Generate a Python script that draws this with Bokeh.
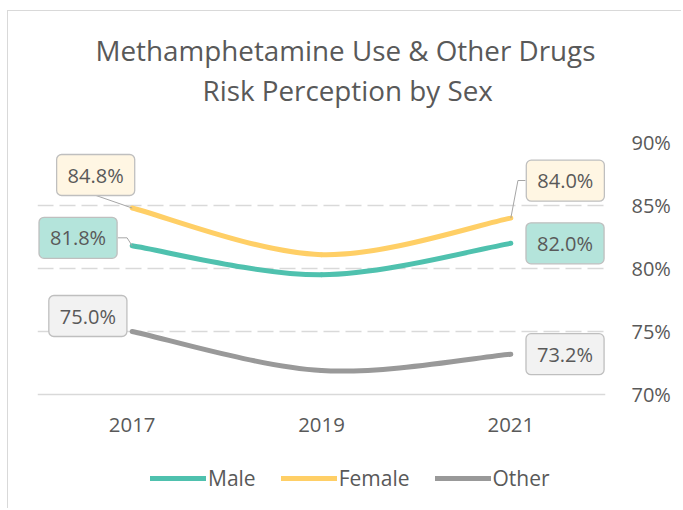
import numpy as np
from bokeh.plotting import figure
from bokeh.models import (FixedTicker, PrintfTickFormatter, Label, Legend,
                          LegendItem, Range1d, Title, Span)
from bokeh.core.properties import value
from bokeh.embed import file_html
from bokeh.resources import INLINE

# ---- data ----
years = ["2017", "2019", "2021"]
male = [81.8, 79.5, 82.0]
female = [84.8, 81.1, 84.0]
other = [75.0, 71.9, 73.2]
y_ticks = [70, 75, 80, 85, 90]
title_lines = ["Methamphetamine Use & Other Drugs", "Risk Perception by Sex"]
series_names = ["Male", "Female", "Other"]

# ---- styles ----
line_colors = {"Male": "#4FC1AE", "Female": "#FFCF66", "Other": "#999999"}
box_colors = {"Male": "#B4E4DB", "Female": "#FFF6E3", "Other": "#F2F2F2"}
TXT = "#595959"
FONT = "Open Sans"
# label box centre offsets from the data point (screen px, y up)
label_offsets = {
    ("Female", 0): (-36.5, 33), ("Male", 0): (-54.1, 8), ("Other", 0): (-44.3, 15.5),
    ("Female", 2): (54.5, 37.4), ("Male", 2): (54.2, 0), ("Other", 2): (54.2, 0),
}
# leader lines (screen px offsets from the data point)
leaders = {
    ("Female", 0): [(0, 0), (-36.1, 12.5)],
    ("Male", 0): [(0, 0), (-5.1, 8), (-14.3, 8)],
    ("Female", 2): [(0, 0), (7.1, 37.6), (14.6, 37.6)],
}

W, H = 674, 498
ML, MT = 29, 131
FW = 568
PX_PER_PCT = 12.6           # vertical scale (px per percentage point)
MR = W - ML - FW
FH = H - MT                 # frame runs to the bottom of the canvas

values = {"Male": male, "Female": female, "Other": other}
xs = np.arange(len(years), dtype=float)
y_top = y_ticks[-1]
y_bottom = y_top - FH / PX_PER_PCT

p = figure(width=W, height=H, output_backend="svg", toolbar_location=None,
           x_range=Range1d(-0.5, len(years) - 0.5),
           y_range=Range1d(y_bottom, y_top),
           x_axis_location=None, y_axis_location="right",
           min_border_left=ML, min_border_right=MR,
           min_border_top=MT, min_border_bottom=0)
p.styles = {"margin-left": "7px", "margin-top": "10px",
            "border-left": "1px solid #D9D9D9", "border-top": "1px solid #D9D9D9"}
p.outline_line_color = None
p.background_fill_color = "white"
p.border_fill_color = "white"

# titles: p.title is outermost; first added Title is nearest the plot
p.title.text = title_lines[0]
p.title.align = "left"
p.title.offset = 58
p.title.text_font = FONT
p.title.text_font_size = "27.8px"
p.title.text_font_style = "normal"
p.title.text_color = TXT
p.title.standoff = 0
spacer = Title(text=" ", text_font=FONT, text_font_size="23px", standoff=0)
p.add_layout(spacer, "above")
t2 = Title(text=title_lines[1], align="left", offset=165, text_font=FONT,
           text_font_size="27.8px", text_font_style="normal", text_color=TXT,
           standoff=0)
p.add_layout(t2, "above")

# right y axis
p.yaxis.ticker = FixedTicker(ticks=y_ticks)
p.yaxis.formatter = PrintfTickFormatter(format="%d%%")
p.yaxis.axis_line_color = None
p.yaxis.major_tick_line_color = None
p.yaxis.minor_tick_line_color = None
p.yaxis.major_label_text_font = FONT
p.yaxis.major_label_text_font_size = "20px"
p.yaxis.major_label_text_color = TXT
p.yaxis.major_label_standoff = 20

p.xgrid.grid_line_color = None
p.ygrid.ticker = FixedTicker(ticks=y_ticks[1:])
p.ygrid.grid_line_color = "#D9D9D9"
p.ygrid.grid_line_width = 1.5
p.ygrid.grid_line_dash = "16 6"

# category axis line and labels
p.add_layout(Span(location=y_ticks[0], dimension="width", line_color="#D9D9D9",
                  line_width=1.5))
p.text(x=xs, y=[y_ticks[0]] * len(years), text=years, y_offset=30,
       text_align="center", text_baseline="middle", text_font=value(FONT),
       text_font_size="20.4px", text_color=TXT)


def smooth_segments(ys):
    pts = list(zip(xs, ys))
    P = [pts[0]] + pts + [pts[-1]]
    out = dict(x0=[], y0=[], x1=[], y1=[], cx0=[], cy0=[], cx1=[], cy1=[])
    for i in range(len(pts) - 1):
        p0, p1, p2, p3 = P[i], P[i + 1], P[i + 2], P[i + 3]
        out["x0"].append(p1[0]); out["y0"].append(p1[1])
        out["x1"].append(p2[0]); out["y1"].append(p2[1])
        out["cx0"].append(p1[0] + (p2[0] - p0[0]) / 6)
        out["cy0"].append(p1[1] + (p2[1] - p0[1]) / 6)
        out["cx1"].append(p2[0] - (p3[0] - p1[0]) / 6)
        out["cy1"].append(p2[1] - (p3[1] - p1[1]) / 6)
    return out


px_x = FW / len(years)
px_y = PX_PER_PCT

renderers = {}
for name in series_names:
    seg = smooth_segments(values[name])
    r = p.bezier(line_color=line_colors[name], line_width=5, line_cap="round",
                 **seg)
    renderers[name] = r

# leader lines
for (name, i), pts in leaders.items():
    lx = [xs[i] + dx / px_x for dx, dy in pts]
    ly = [values[name][i] + dy / px_y for dx, dy in pts]
    p.line(lx, ly, line_color="#A6A6A6", line_width=1)

# data labels
for (name, i), (dx, dy) in label_offsets.items():
    v = values[name][i]
    p.add_layout(Label(x=xs[i], y=v, x_offset=dx, y_offset=dy,
                       text=f"{v:.1f}%", text_align="center", text_baseline="middle",
                       text_font=FONT, text_font_size="20px", text_color=TXT,
                       background_fill_color=box_colors[name],
                       border_line_color="#BFBFBF", border_line_width=1.3,
                       border_radius=5, padding=(11, 7)))

legend = Legend(items=[LegendItem(label=n, renderers=[renderers[n]]) for n in series_names],
                orientation="horizontal", location=(113, 17),
                label_text_font=FONT, label_text_font_size="21px", label_text_color=TXT,
                glyph_width=56, glyph_height=20, label_height=20, label_standoff=2,
                spacing=25, padding=0, margin=0, border_line_color=None,
                background_fill_alpha=0)
p.add_layout(legend, "center")

open("out.html", "w").write(file_html(p, INLINE))
